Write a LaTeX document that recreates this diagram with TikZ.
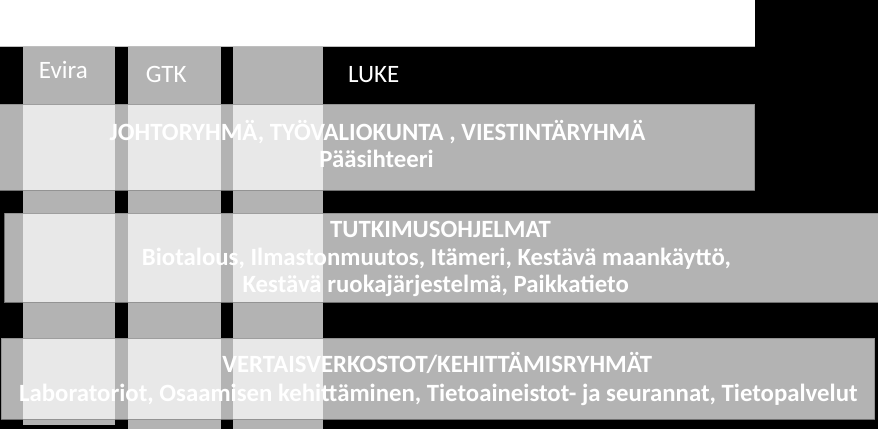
\documentclass[tikz,border=0pt]{standalone}
\usepackage{fontspec}
\setmainfont{Carlito}
\begin{document}
\begin{tikzpicture}[x=1pt,y=-1pt,
  veil/.style={fill=white,fill opacity=0.7,draw=black!45,draw opacity=0.8,line width=0.6pt},
  colbox/.style={fill=white,fill opacity=0.7,draw=none},
  lbl/.style={text=white,font=\fontsize{25}{30}\selectfont,anchor=base,inner sep=0pt},
  blbl/.style={lbl,font=\fontsize{24.8}{30}\selectfont\bfseries}]
\useasboundingbox (0,0) rectangle (878,429);
\fill[black] (0,0) rectangle (878,429);
% white header
\fill[white] (0,0) rectangle (754.7,46.7);
\draw[black!25,line width=0.6pt] (0,46.7) -- (754.7,46.7);
% columns
\path[colbox] (23.3,46.7) rectangle (115.3,424.7);
\path[colbox] (128,46.7) rectangle (221.3,432);
\path[colbox] (233.3,46.7) rectangle (322.7,432);
% bands
\path[veil] (-1,104.3) rectangle (754.7,190.3);
\path[veil] (4.7,213.3) rectangle (880,302.3);
\path[veil] (1.3,338.3) rectangle (874.7,419);
% labels
\node[lbl] (evira) at (63.3,78.3) {Evira};
\node[lbl] (gtk) at (166.2,82.3) {GTK};
\node[lbl] (luke) at (373.8,82.3) {LUKE};
\node[blbl] (b1a) at (377.5,140.7) {JOHTORYHMÄ, TYÖVALIOKUNTA , VIESTINTÄRYHMÄ};
\node[blbl] (b1b) at (376.5,167.3) {Pääsihteeri};
\node[blbl] (b2a) at (440.5,237.7) {TUTKIMUSOHJELMAT};
\node[blbl] (b2b) at (436.3,265) {Biotalous, Ilmastonmuutos, Itämeri, Kestävä maankäyttö,};
\node[blbl] (b2c) at (435.7,292.3) {Kestävä ruokajärjestelmä, Paikkatieto};
\node[blbl] (b3a) at (437.3,372.3) {VERTAISVERKOSTOT/KEHITTÄMISRYHMÄT};
\node[blbl] (b3b) at (438.3,401) {Laboratoriot, Osaamisen kehittäminen, Tietoaineistot- ja seurannat, Tietopalvelut};
\end{tikzpicture}
\end{document}
